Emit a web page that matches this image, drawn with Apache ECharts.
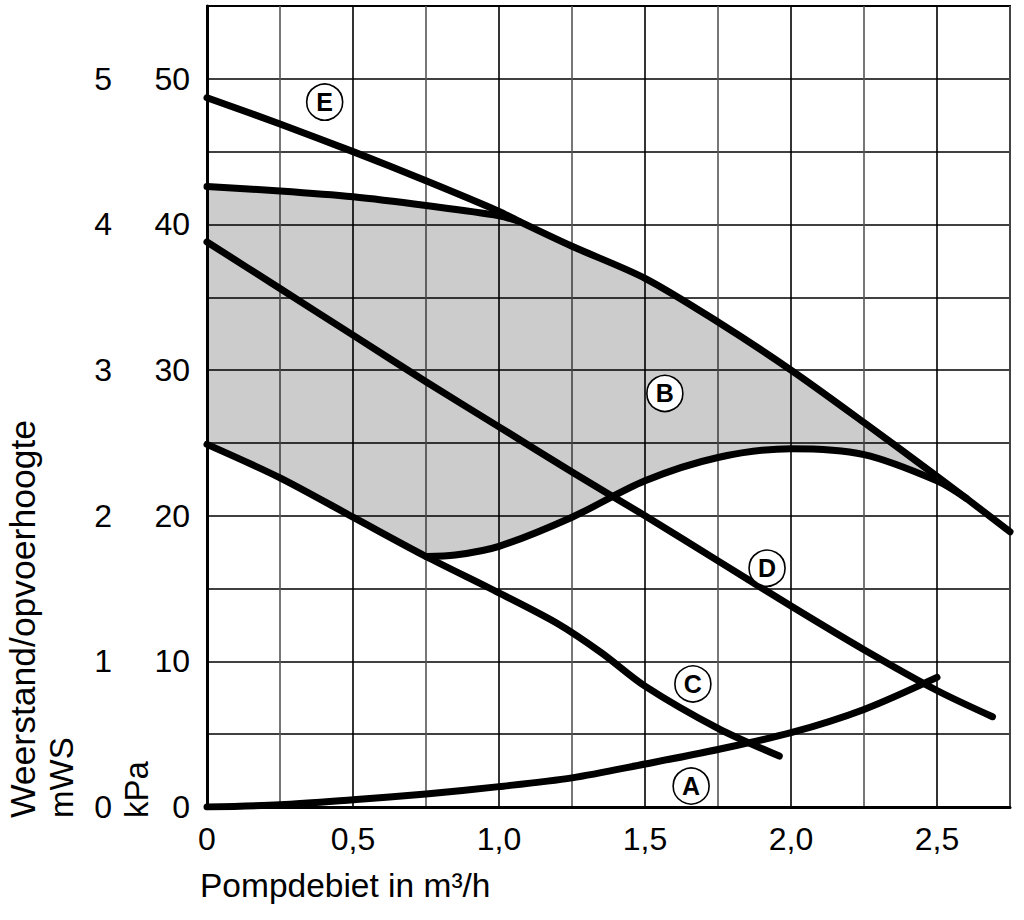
<!DOCTYPE html>
<html>
<head>
<meta charset="utf-8">
<script src="https://cdn.jsdelivr.net/npm/echarts@6/dist/echarts.min.js"></script>
<style>
html,body{margin:0;padding:0;background:#fff;}
#chart{width:1024px;height:920px;}
</style>
</head>
<body>
<div id="chart"></div>
<script>
// ---- data (flow in m³/h, head in kPa) ----
var curveE = [[0,48.7],[0.25,46.9],[0.5,45.0],[0.75,43.0],[1.0,40.9],[1.07,40.2],[1.25,38.5],[1.5,36.3],[1.75,33.3],[2.0,30.0],[2.25,26.4],[2.5,22.7],[2.6,21.2],[2.75,18.9]];
var curveBTop = [[0,42.6],[0.25,42.3],[0.5,41.9],[0.75,41.3],[1.0,40.6],[1.07,40.2]];
var curveBBottom = [[0.75,17.2],[0.85,17.3],[1.0,17.9],[1.25,19.9],[1.5,22.4],[1.75,24.0],[2.0,24.6],[2.25,24.2],[2.5,22.4],[2.6,21.2]];
var curveC = [[0,24.9],[0.25,22.6],[0.5,19.9],[0.75,17.2],[1.0,14.7],[1.2,12.6],[1.35,10.6],[1.5,8.3],[1.75,5.4],[1.96,3.5]];
var curveD = [[0,38.8],[0.25,35.6],[0.5,32.4],[0.75,29.2],[1.0,26.1],[1.25,23.0],[1.5,20.0],[1.75,16.9],[2.0,13.8],[2.25,10.8],[2.5,8.0],[2.69,6.2]];
var curveA = [[0,0],[0.25,0.15],[0.5,0.5],[0.75,0.9],[1.0,1.4],[1.25,2.0],[1.5,2.95],[1.75,3.95],[2.0,5.1],[2.25,6.7],[2.5,8.9]];

var tagNames = ['E','B','D','C','A'];
var tagFlow  = [0.403,1.568,1.918,1.664,1.658];
var tagHead  = [48.4,28.4,16.4,8.45,1.44];

var xTickStep = 0.25;
var kpaTickStep = 5;
var mwsTickStep = 0.5;

var FONT = '"Liberation Sans", Arial, Helvetica, sans-serif';

// fill polygon of region B: upper boundary (B top then shared E part), lower boundary (C then B bottom)
var fillTop = curveBTop.concat(curveE.filter(function(p){return p[0] > 1.07 && p[0] <= 2.6;}));
var fillBottom = curveC.filter(function(p){return p[0] < 0.75;}).concat(curveBBottom);
var fillPoly = fillTop.concat(fillBottom.slice().reverse());

var chart = echarts.init(document.getElementById('chart'), null, {renderer:'svg'});

function lineSeries(name, data){
  return {
    name: name, type: 'line', data: data, smooth: 0.3, showSymbol: false,
    xAxisIndex: 0, yAxisIndex: 0, z: 5, silent: true,
    lineStyle: {color: '#000', width: 7, cap: 'round', join: 'round'}
  };
}

var option = {
  backgroundColor: '#fff',
  animation: false,
  grid: {left: 207, right: 14, top: 6, bottom: 113, show: true, borderColor: '#000', borderWidth: 2, backgroundColor: 'transparent'},
  xAxis: {
    type: 'value', min: 0, max: 2.75, interval: xTickStep,
    axisLine: {show: true, lineStyle: {color: '#000', width: 3}},
    axisTick: {show: false},
    axisLabel: {
      color: '#000', fontSize: 32, fontFamily: FONT, margin: 16,
      formatter: function(v){
        var r = Math.round(v*100)/100;
        if (Math.abs(r*2 - Math.round(r*2)) > 1e-6) return '';
        if (r === 0) return '0';
        return r.toFixed(1).replace('.', ',');
      }
    },
    splitLine: {show: true, lineStyle: {color: ['#000','#555'], width: 1.6}}
  },
  yAxis: [{
    type: 'value', min: 0, max: 55, interval: kpaTickStep, position: 'left',
    axisLine: {show: true, lineStyle: {color: '#000', width: 3}},
    axisTick: {show: false},
    axisLabel: {
      color: '#000', fontSize: 32, fontFamily: FONT, margin: 17,
      formatter: function(v){ return (Math.round(v) % 10 === 0 && v <= 50) ? String(Math.round(v)) : ''; }
    },
    splitLine: {show: true, lineStyle: {color: '#000', width: 1.6}}
  },{
    type: 'value', min: 0, max: 5.5, interval: mwsTickStep, position: 'left', offset: 78,
    axisLine: {show: false}, axisTick: {show: false}, splitLine: {show: false},
    axisLabel: {
      color: '#000', fontSize: 32, fontFamily: FONT, margin: 17,
      formatter: function(v){ var r = Math.round(v*10)/10; return (Math.abs(r - Math.round(r)) < 1e-6 && r <= 5) ? String(Math.round(r)) : ''; }
    }
  }],
  series: [
    {
      type: 'custom', name: 'B-area', silent: true, z: 2,
      xAxisIndex: 0, yAxisIndex: 0,
      data: [0],
      renderItem: function(params, api){
        var pts = fillPoly.map(function(p){ return api.coord(p); });
        return {type: 'polygon', shape: {points: pts}, style: {fill: 'rgba(0,0,0,0.2)', stroke: null}};
      }
    },
    lineSeries('E', curveE),
    lineSeries('B top', curveBTop),
    lineSeries('B bottom', curveBBottom),
    lineSeries('C', curveC),
    lineSeries('D', curveD),
    lineSeries('A', curveA),
    {
      type: 'scatter', name: 'tags', z: 10, silent: true,
      xAxisIndex: 0, yAxisIndex: 0,
      symbol: 'circle', symbolSize: 36,
      itemStyle: {color: '#fff', borderColor: '#000', borderWidth: 1.6, opacity: 1},
      label: {show: true, position: 'inside', color: '#000', fontSize: 25, fontWeight: 'bold', fontFamily: FONT,
        formatter: function(p){ return p.data.name; }},
      data: tagNames.map(function(n, i){ return {name: n, value: [tagFlow[i], tagHead[i]]}; })
    }
  ],
  graphic: [
    {type: 'text', x: 23, y: 818, rotation: Math.PI/2, silent: true,
     style: {text: 'Weerstand/opvoerhoogte', font: '35.5px ' + FONT, fill: '#000', textAlign: 'left', textVerticalAlign: 'middle'}},
    {type: 'text', x: 61, y: 818, rotation: Math.PI/2, silent: true,
     style: {text: 'mWS', font: '33px ' + FONT, fill: '#000', textAlign: 'left', textVerticalAlign: 'middle'}},
    {type: 'text', x: 136, y: 818, rotation: Math.PI/2, silent: true,
     style: {text: 'kPa', font: '33px ' + FONT, fill: '#000', textAlign: 'left', textVerticalAlign: 'middle'}},
    {type: 'text', x: 200, y: 885, silent: true,
     style: {text: 'Pompdebiet in m³/h', font: '33.5px ' + FONT, fill: '#000', textAlign: 'left', textVerticalAlign: 'middle'}}
  ]
};
chart.setOption(option);
</script>
</body>
</html>
